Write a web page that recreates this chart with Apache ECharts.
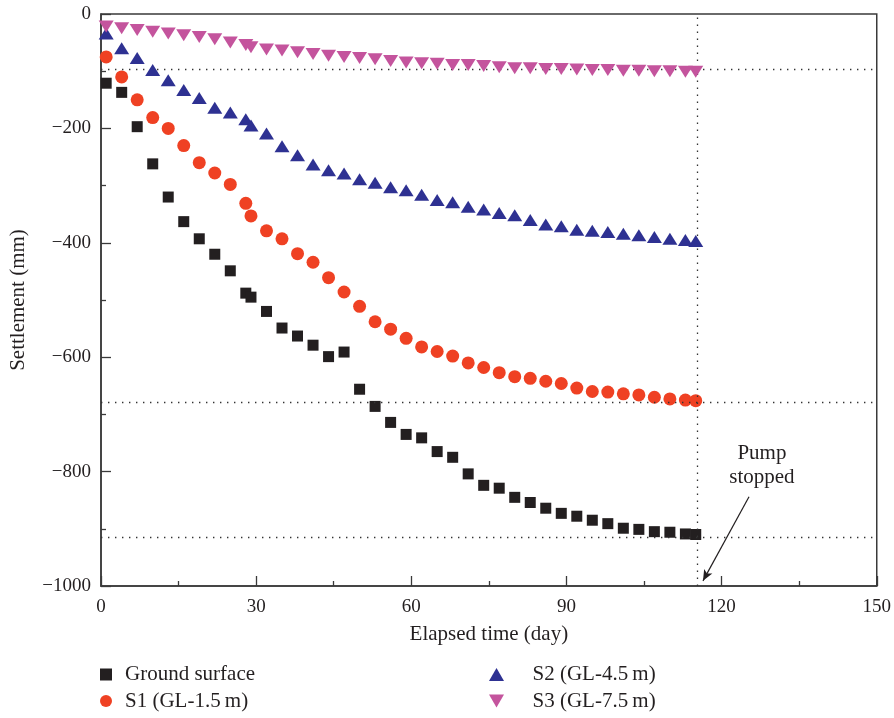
<!DOCTYPE html>
<html>
<head>
<meta charset="utf-8">
<script src="https://cdn.jsdelivr.net/npm/echarts@6/dist/echarts.min.js"></script>
<style>
  html, body { margin: 0; padding: 0; background: #fff; }
  #chart { width: 894px; height: 718px; }
</style>
</head>
<body>
<div id="chart"></div>
<script>
// Elapsed time of each survey (day)
const days = [1, 4, 7, 10, 13, 16, 19, 22, 25, 28, 29, 32, 35, 38, 41, 44, 47, 50, 53, 56,
  59, 62, 65, 68, 71, 74, 77, 80, 83, 86, 89, 92, 95, 98, 101, 104, 107, 110, 113, 115];

// Settlement (mm) at each survey
const groundSurface = [-121, -137, -197, -262, -320, -363, -393, -420, -449, -488, -495, -520,
  -549, -563, -579, -599, -591, -656, -686, -714, -735, -741, -765, -775, -804, -824, -829,
  -845, -854, -864, -873, -878, -885, -891, -899, -901, -905, -906, -909, -910];
const s1 = [-75, -110, -150, -181, -200, -230, -260, -278, -298, -331, -353, -379, -393, -419,
  -434, -461, -486, -511, -538, -551, -567, -582, -590, -598, -610, -618, -627, -634, -637,
  -642, -646, -654, -660, -661, -664, -666, -670, -673, -675, -676];
const s2 = [-34, -60, -77, -98, -116, -133, -147, -164, -172, -184, -195, -209, -231, -247,
  -263, -273, -279, -289, -295, -303, -308, -316, -325, -329, -337, -342, -348, -352, -360,
  -368, -371, -377, -379, -381, -384, -387, -390, -393, -395, -397];
const s3 = [-22, -25, -28, -31, -34, -37, -40, -44, -50, -54, -58, -62, -64, -67, -70, -73,
  -75, -77, -79, -82, -85, -86, -87, -89, -89, -91, -93, -95, -95, -96, -96, -97, -98, -98,
  -99, -99, -100, -100, -101, -101];

// Reference levels and the day the pump stopped
const refLevels = [-97, -679, -915];
const pumpStopDay = 115.2;

const seriesNames = ['Ground surface', 'S1 (GL-1.5\u2009m)', 'S2 (GL-4.5\u2009m)', 'S3 (GL-7.5\u2009m)'];

const FONT = '"Liberation Serif", "DejaVu Serif", serif';
const INK = '#231f20';

const pair = (vals) => days.map((d, i) => [d, vals[i]]);
const fmtMinus = (v) => (v < 0 ? '\u2212' + Math.abs(v) : String(v));

const dotted = { color: '#333', width: 1.3, type: [1.4, 5.6] };

const chart = echarts.init(document.getElementById('chart'), null, { renderer: 'canvas' });

chart.setOption({
  animation: false,
  backgroundColor: '#fff',
  grid: {
    left: 101, right: 17, top: 14, bottom: 132,
    show: true, borderColor: '#3a3a3a', borderWidth: 1.5, backgroundColor: 'transparent'
  },
  xAxis: {
    type: 'value', min: 0, max: 150, interval: 30,
    name: 'Elapsed time (day)', nameLocation: 'middle', nameGap: 38,
    nameTextStyle: { fontFamily: FONT, fontSize: 21, color: INK },
    axisLine: { show: true, onZero: false, lineStyle: { color: '#3a3a3a', width: 1.5 } },
    axisTick: { show: true, inside: true, length: 10, lineStyle: { color: '#3a3a3a', width: 1.3 } },
    minorTick: { show: true, splitNumber: 2, length: 5, lineStyle: { color: '#3a3a3a', width: 1.3 } },
    splitLine: { show: false },
    axisLabel: { fontFamily: FONT, fontSize: 19, color: INK, margin: 12 }
  },
  yAxis: {
    type: 'value', min: -1000, max: 0, interval: 200,
    name: 'Settlement (mm)', nameLocation: 'middle', nameGap: 72,
    nameTextStyle: { fontFamily: FONT, fontSize: 21, color: INK },
    axisLine: { show: true, onZero: false, lineStyle: { color: '#3a3a3a', width: 1.5 } },
    axisTick: { show: true, inside: true, length: 10, lineStyle: { color: '#3a3a3a', width: 1.3 } },
    minorTick: { show: true, splitNumber: 2, length: 5, lineStyle: { color: '#3a3a3a', width: 1.3 } },
    splitLine: { show: false },
    axisLabel: { fontFamily: FONT, fontSize: 19, color: INK, margin: 10, formatter: fmtMinus }
  },
  legend: [
    {
      orient: 'vertical', left: 100, top: 664, padding: 0, itemGap: 5.5,
      itemWidth: 12, itemHeight: 12,
      textStyle: { fontFamily: FONT, fontSize: 21, color: INK, lineHeight: 21, padding: [0, 0, 0, 8] },
      data: [
        { name: seriesNames[0], icon: 'rect' },
        { name: seriesNames[1], icon: 'circle' }
      ]
    },
    {
      orient: 'vertical', left: 489, top: 664, padding: 0, itemGap: 5.5,
      itemWidth: 16, itemHeight: 13,
      textStyle: { fontFamily: FONT, fontSize: 21, color: INK, lineHeight: 21, padding: [0, 0, 0, 23] },
      data: [
        { name: seriesNames[2], icon: 'path://M5,0L10,8.66L0,8.66Z' },
        { name: seriesNames[3], icon: 'path://M0,0L10,0L5,8.66Z' }
      ]
    }
  ],
  series: [
    {
      name: seriesNames[0], type: 'scatter', symbol: 'rect', symbolSize: 11,
      itemStyle: { color: INK, opacity: 1 },
      data: pair(groundSurface),
      markLine: {
        silent: true, symbol: 'none', label: { show: false },
        lineStyle: dotted,
        data: refLevels.map((v) => ({ yAxis: v })).concat([{ xAxis: pumpStopDay }])
      },
      z: 3
    },
    {
      name: seriesNames[1], type: 'scatter', symbol: 'circle', symbolSize: 13,
      itemStyle: { color: '#ef4123', opacity: 1 },
      data: pair(s1),
      markLine: {
        silent: true, symbol: ['none', 'arrow'], symbolSize: [7, 11], label: { show: false },
        lineStyle: { color: INK, width: 1.2, type: 'solid' },
        data: [[{ coord: [125.3, -844] }, { coord: [116.4, -991] }]]
      },
      markPoint: {
        silent: true, symbol: 'circle', symbolSize: 0,
        data: [{ coord: [127.8, -790] }],
        label: {
          show: true, position: 'inside', formatter: 'Pump\nstopped',
          fontFamily: FONT, fontSize: 21, lineHeight: 24, color: INK, align: 'center'
        }
      },
      z: 4
    },
    {
      name: seriesNames[2], type: 'scatter', symbol: 'triangle', symbolSize: [15, 12],
      itemStyle: { color: '#2e3192', opacity: 1 },
      data: pair(s2),
      z: 5
    },
    {
      name: seriesNames[3], type: 'scatter', symbol: 'triangle', symbolRotate: 180, symbolSize: [15, 12],
      itemStyle: { color: '#c4549d', opacity: 1 },
      data: pair(s3),
      z: 6
    }
  ]
});
</script>
</body>
</html>
